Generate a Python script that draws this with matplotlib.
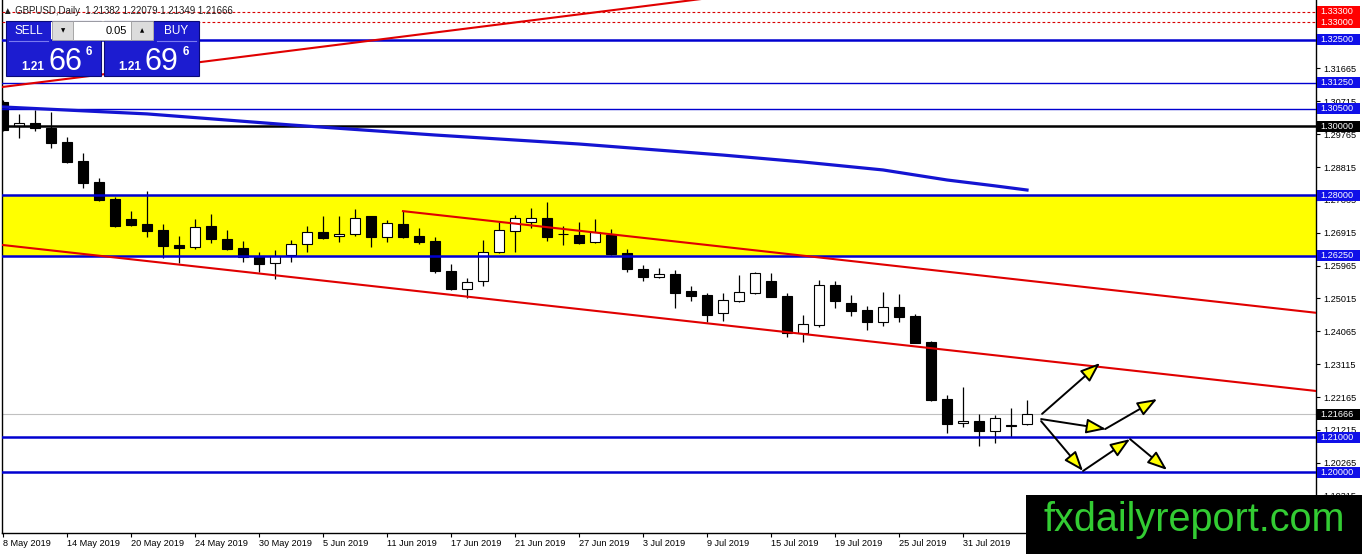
import matplotlib
matplotlib.use("Agg")
import matplotlib.pyplot as plt
from matplotlib.patches import Rectangle

plt.rcParams['font.family'] = ['Liberation Sans', 'DejaVu Sans']

# --- data ---
opens = [1.3069, 1.3000, 1.3009, 1.2994, 1.2954, 1.2899, 1.2838, 1.2789, 1.2731, 1.2717,
         1.2699, 1.2656, 1.2650, 1.2711, 1.2673, 1.2647, 1.2624, 1.2604, 1.2627, 1.2659,
         1.2694, 1.2682, 1.2688, 1.2740, 1.2679, 1.2717, 1.2682, 1.2668, 1.2581, 1.2529,
         1.2552, 1.2636, 1.2697, 1.2723, 1.2734, 1.2688, 1.2685, 1.2665, 1.2685, 1.2633,
         1.2587, 1.2564, 1.2572, 1.2523, 1.2512, 1.2460, 1.2494, 1.2517, 1.2552, 1.2509,
         1.2402, 1.2425, 1.2540, 1.2488, 1.2468, 1.2434, 1.2477, 1.2451, 1.2376, 1.2211,
         1.2142, 1.2147, 1.2119, 1.2136, 1.21382]
highs = [1.3075, 1.3035, 1.3046, 1.3040, 1.2968, 1.2922, 1.2850, 1.2795, 1.2754, 1.2812,
         1.2717, 1.2682, 1.2731, 1.2746, 1.2699, 1.2668, 1.2636, 1.2642, 1.2671, 1.2711,
         1.2740, 1.2740, 1.2760, 1.2740, 1.2728, 1.2754, 1.2705, 1.2679, 1.2601, 1.2561,
         1.2671, 1.2723, 1.2743, 1.2763, 1.2780, 1.2711, 1.2723, 1.2731, 1.2702, 1.2645,
         1.2598, 1.2590, 1.2584, 1.2538, 1.2517, 1.2517, 1.2569, 1.2578, 1.2575, 1.2517,
         1.2454, 1.2555, 1.2552, 1.2512, 1.2480, 1.2520, 1.2514, 1.2457, 1.2379, 1.2223,
         1.2246, 1.2168, 1.2165, 1.2185, 1.22079]
lows = [1.2986, 1.2965, 1.2986, 1.2936, 1.2893, 1.2821, 1.2783, 1.2708, 1.2711, 1.2679,
        1.2619, 1.2604, 1.2645, 1.2662, 1.2642, 1.2607, 1.2578, 1.2558, 1.2607, 1.2636,
        1.2673, 1.2665, 1.2682, 1.2650, 1.2665, 1.2676, 1.2659, 1.2575, 1.2526, 1.2503,
        1.2538, 1.2633, 1.2636, 1.2705, 1.2668, 1.2656, 1.2659, 1.2662, 1.2627, 1.2578,
        1.2552, 1.2561, 1.2474, 1.2494, 1.2434, 1.2436, 1.2491, 1.2515, 1.2506, 1.2390,
        1.2376, 1.2419, 1.2474, 1.2451, 1.2410, 1.2422, 1.2434, 1.2373, 1.2205, 1.2113,
        1.2130, 1.2075, 1.2084, 1.2101, 1.21349]
closes = [1.2988, 1.3009, 1.2994, 1.2951, 1.2896, 1.2835, 1.2786, 1.2711, 1.2714, 1.2697,
          1.2653, 1.2647, 1.2708, 1.2673, 1.2645, 1.2621, 1.2601, 1.2624, 1.2659, 1.2694,
          1.2676, 1.2688, 1.2734, 1.2679, 1.2720, 1.2679, 1.2665, 1.2581, 1.2529, 1.2549,
          1.2636, 1.2699, 1.2734, 1.2734, 1.2679, 1.2688, 1.2662, 1.2694, 1.2630, 1.2587,
          1.2564, 1.2572, 1.2517, 1.2509, 1.2454, 1.2497, 1.2520, 1.2575, 1.2506, 1.2402,
          1.2428, 1.2540, 1.2494, 1.2465, 1.2434, 1.2477, 1.2448, 1.2373, 1.2208, 1.2139,
          1.2147, 1.2119, 1.2156, 1.2133, 1.21666]

date_labels = ['8 May 2019', '14 May 2019', '20 May 2019', '24 May 2019', '30 May 2019',
               '5 Jun 2019', '11 Jun 2019', '17 Jun 2019', '21 Jun 2019', '27 Jun 2019',
               '3 Jul 2019', '9 Jul 2019', '15 Jul 2019', '19 Jul 2019', '25 Jul 2019',
               '31 Jul 2019']

# moving average (read at some bars)
ma_bars = [0, 9, 18, 27, 36, 45, 50, 55, 59, 62, 64]
ma_vals = [1.3055, 1.3035, 1.3003, 1.2974, 1.2948, 1.2916, 1.2896, 1.2873, 1.2844, 1.2827, 1.2815]

# trend lines: (bar, price) pairs
trend_lines = [((0, 1.3113), (45, 1.3375)),
               ((0, 1.2656), (82.1, 1.2234)),
               ((25, 1.2754), (82.1, 1.2460))]

# scenario arrows: (start, tip)
arrows = [((64.94, 1.2168), (68.56, 1.2315)),
          ((64.88, 1.2153), (68.94, 1.2124)),
          ((68.88, 1.2124), (72.13, 1.2211)),
          ((64.88, 1.2147), (67.50, 1.2003)),
          ((67.50, 1.2003), (70.44, 1.2095)),
          ((70.44, 1.2095), (72.75, 1.2006))]

red_levels = [1.3330, 1.3300]
blue_thick = [1.3250, 1.2800, 1.2625, 1.2100, 1.2000]
blue_thin = [1.3125, 1.3050]
black_level = 1.3000
zone = (1.2625, 1.2800)
last_price = 1.21666
axis_ticks = [1.31665, 1.30715, 1.29765, 1.28815, 1.27865, 1.26915, 1.25965,
              1.25015, 1.24065, 1.23115, 1.22165, 1.21215, 1.20265, 1.19315]

# --- figure ---
W, H = 1362, 554
fig = plt.figure(figsize=(W / 100, H / 100), dpi=100)
ax = fig.add_axes([2 / W, 21 / H, 1314 / W, 533 / H])
ax.set_xlim(-0.06, 82.06)
ax.set_ylim(1.18237, 1.33642)

ax.axhspan(zone[0], zone[1], color='#ffff00', lw=0, zorder=0.5)
ax.axhline(last_price, color='#c0c0c0', lw=0.8, zorder=1.5)

n = len(opens)
xs = list(range(n))
bottoms = [min(o, c) for o, c in zip(opens, closes)]
heights = [abs(c - o) for o, c in zip(opens, closes)]
cols = ['white' if c > o else 'black' for o, c in zip(opens, closes)]
ax.vlines(xs, lows, highs, color='black', lw=0.9, zorder=1.9)
ax.bar(xs, heights, bottom=bottoms, width=0.66, color=cols, edgecolor='black',
       lw=0.8, zorder=2)

for lv in red_levels:
    ax.axhline(lv, color='#d80000', lw=0.8, dashes=(2.5, 2), zorder=3)
for lv in blue_thick:
    ax.axhline(lv, color='#0000d0', lw=1.8, zorder=3)
for lv in blue_thin:
    ax.axhline(lv, color='#0000d0', lw=1.0, zorder=3)
ax.axhline(black_level, color='black', lw=1.8, zorder=3)

ax.plot(ma_bars, ma_vals, color='#1414d2', lw=2.3, zorder=3)
for (x0, y0), (x1, y1) in trend_lines:
    ax.plot([x0, x1], [y0, y1], color='#e00000', lw=1.5, zorder=3)

for start, tip in arrows:
    ax.annotate('', xy=tip, xytext=start,
                arrowprops=dict(arrowstyle='-|>,head_length=1.2,head_width=0.45',
                                fc='#ffff00', ec='black', lw=1.4,
                                shrinkA=0, shrinkB=0), zorder=4)

# axes styling
ax.spines['top'].set_visible(False)
for s in ['left', 'right', 'bottom']:
    ax.spines[s].set_linewidth(1.0)
ax.yaxis.tick_right()
ax.set_yticks(axis_ticks)
ax.set_yticklabels(['%.5f' % t for t in axis_ticks])
ax.tick_params(axis='y', direction='out', length=3, width=0.8, pad=2, labelsize=6.6)
ax.set_xticks(range(0, 4 * len(date_labels), 4))
ax.set_xticklabels(date_labels)
ax.tick_params(axis='x', direction='out', length=3, width=0.8, pad=1.5, labelsize=6.6)
for lab in ax.get_xticklabels():
    lab.set_ha('left')

# price boxes on the right scale
ytr = ax.get_yaxis_transform()
box_h = 11 / 3460
boxes = [(lv, '#ff0000') for lv in red_levels] + \
        [(lv, '#1010e8') for lv in blue_thick + blue_thin] + \
        [(black_level, 'black'), (last_price, 'black')]
for lv, col in boxes:
    ax.add_patch(Rectangle((1.0008, lv - box_h / 2), 0.0327, box_h, transform=ytr,
                           fc=col, ec='none', clip_on=False, zorder=5))
    ax.text(1.0036, lv, '%.5f' % lv, transform=ytr, color='white', fontsize=6.6,
            ha='left', va='center', clip_on=False, zorder=6)

ax.text(0.004, 1.33642 - 11 / 3460, '\u25b2 GBPUSD,Daily  1.21382 1.22079 1.21349 1.21666',
        transform=ax.transData, fontsize=6.9, color='#202020', va='center', ha='left',
        zorder=6)

# overlay in pixel coordinates: trade panel and watermark
ov = fig.add_axes([0, 0, 1, 1], zorder=10)
ov.set_xlim(0, W)
ov.set_ylim(H, 0)
ov.axis('off')
ov.patch.set_alpha(0)

blue = '#1c1cd0'
edge = '#0a0a78'
for rect in [(6, 21, 45, 21), (6, 41, 95, 35), (154, 21, 45, 21), (104, 41, 95, 35)]:
    ov.add_patch(Rectangle(rect[:2], rect[2], rect[3], fc=blue, ec='none'))
ov.add_patch(Rectangle((6, 21), 95, 55, fc='none', ec=edge, lw=0.8))
ov.add_patch(Rectangle((104, 21), 95, 55, fc='none', ec=edge, lw=0.8))
ov.plot([9, 48], [41, 41], color='#7a7af0', lw=0.8)
ov.plot([157, 196], [41, 41], color='#7a7af0', lw=0.8)
ov.add_patch(Rectangle((52, 21), 21, 19, fc='#dcdcdc', ec='#a0a0a0', lw=0.6))
ov.add_patch(Rectangle((73, 21), 58, 19, fc='white', ec='#a0a0a0', lw=0.6))
ov.add_patch(Rectangle((131, 21), 22, 19, fc='#dcdcdc', ec='#a0a0a0', lw=0.6))
ov.text(63, 31, '\u25bc', fontsize=4, ha='center', va='center', family='DejaVu Sans')
ov.text(142, 31, '\u25b2', fontsize=4, ha='center', va='center', family='DejaVu Sans')
ov.text(127, 31, '0.05', fontsize=8, ha='right', va='center', color='black')
ov.text(28.5, 31, 'SELL', fontsize=8.5, ha='center', va='center', color='white')
ov.text(176.5, 31, 'BUY', fontsize=8.5, ha='center', va='center', color='white')
for x0, big in [(21, '66'), (118, '69')]:
    ov.text(x0, 70, '1.21', fontsize=8.5, weight='bold', color='white', va='baseline')
    ov.text(x0 + 27, 70, big, fontsize=22, color='white', va='baseline')
    ov.text(x0 + 65, 55, '6', fontsize=8.5, weight='bold', color='white', va='baseline')

ov.add_patch(Rectangle((1026, 495), 336, 59, fc='black', ec='none'))
ov.text(1194, 531, 'fxdailyreport.com', fontsize=28.5, color='#33cc33',
        ha='center', va='baseline')

fig.savefig('out.png', dpi=100, facecolor='white')
